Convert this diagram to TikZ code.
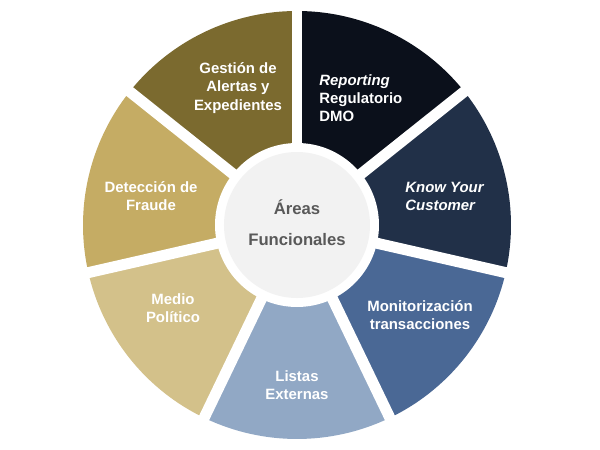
\documentclass[tikz,border=0pt]{standalone}
\usepackage{fontspec}
\setmainfont{Liberation Sans}
\definecolor{cRep}{HTML}{0B101B}
\definecolor{cKyc}{HTML}{213048}
\definecolor{cMon}{HTML}{4A6895}
\definecolor{cLis}{HTML}{91A8C5}
\definecolor{cMed}{HTML}{D3C18A}
\definecolor{cDet}{HTML}{C5AC64}
\definecolor{cGes}{HTML}{7B6A2F}
\definecolor{cCen}{HTML}{F2F2F2}
\definecolor{cTxt}{HTML}{595959}
\begin{document}
\begin{tikzpicture}[x=0.02cm,y=-0.02cm,
  lbl/.style={text=white,font=\fontsize{8.5}{10.3}\selectfont\bfseries,align=center,inner sep=0pt},
  ctr/.style={text=cTxt,font=\fontsize{9.5}{17.6}\selectfont\bfseries,align=center,inner sep=0pt}]
\useasboundingbox[fill=white] (0,0) rectangle (600,450);
\coordinate (c) at (297,225);
\def\R{214}
\foreach \col [count=\i from 0] in {cRep,cKyc,cMon,cLis,cMed,cDet,cGes}{
  \pgfmathsetmacro{\aa}{-90+\i*360/7}
  \pgfmathsetmacro{\ab}{-90+(\i+1)*360/7}
  \fill[\col] (c) -- ++(\aa:\R) arc[start angle=\aa,end angle=\ab,radius=\R] -- cycle;
}
\foreach \i in {0,...,6}{
  \pgfmathsetmacro{\aa}{-90+\i*360/7}
  \draw[white,line width=0.22cm] (c) -- ++(\aa:\R+6);
}
\fill[white] (c) circle[radius=82];
\fill[cCen] (c) circle[radius=73];
\node[ctr] (center) at (297,223) {Áreas\\Funcionales};
\node[lbl] (ges) at (238,88) {Gestión de\\Alertas y\\Expedientes};
\node[lbl,align=left,anchor=west] (rep) at (319,98) {\itshape Reporting\\Regulatorio\\DMO};
\node[lbl,align=left,anchor=west] (kyc) at (405,196) {\itshape Know Your\\\itshape Customer};
\node[lbl] (mon) at (420,315) {Monitorización\\transacciones};
\node[lbl] (lis) at (297,385) {Listas\\Externas};
\node[lbl] (med) at (173,308) {Medio\\Político};
\node[lbl] (det) at (151,196) {Detección de\\Fraude};
\end{tikzpicture}
\end{document}
